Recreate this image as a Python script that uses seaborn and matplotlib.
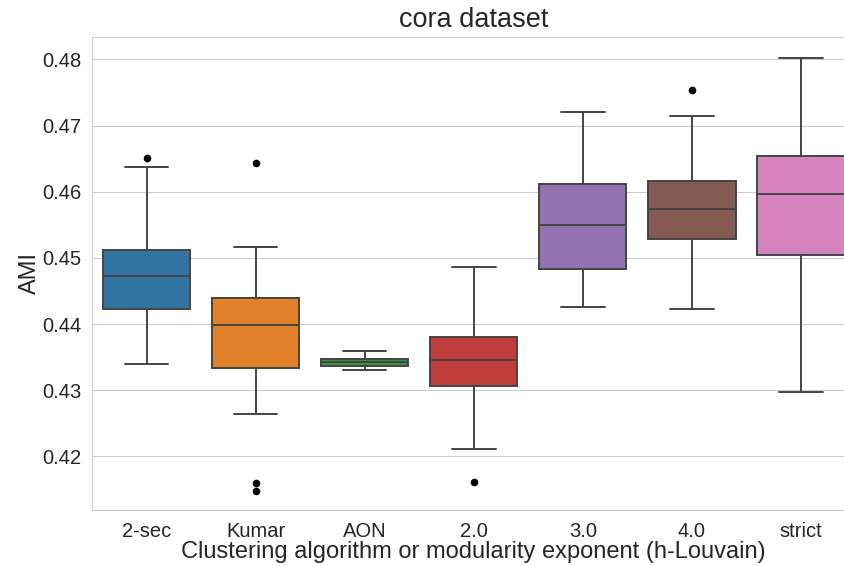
import matplotlib
matplotlib.use("Agg")
import matplotlib.pyplot as plt
import seaborn as sns
import pandas as pd

categories = ["2-sec", "Kumar", "AON", "2.0", "3.0", "4.0", "strict"]

ami_2sec = [0.4339, 0.4400, 0.4423, 0.4450, 0.4473, 0.4490, 0.4512, 0.4638, 0.4651]
ami_kumar = [0.4148, 0.4160, 0.4264, 0.4333, 0.4360, 0.4380, 0.4399, 0.4415,
             0.4430, 0.4440, 0.4490, 0.4516, 0.4644]
ami_aon = [0.4330, 0.4337, 0.4342, 0.4348, 0.4359]
ami_h2 = [0.4161, 0.4212, 0.4306, 0.4330, 0.4346, 0.4365, 0.4381, 0.4420, 0.4487]
ami_h3 = [0.4426, 0.4484, 0.4550, 0.4611, 0.4720]
ami_h4 = [0.4423, 0.4500, 0.4529, 0.4550, 0.4574, 0.4600, 0.4616, 0.4714, 0.4753]
ami_strict = [0.4298, 0.4505, 0.4596, 0.4654, 0.4802]

yticks = [0.42, 0.43, 0.44, 0.45, 0.46, 0.47, 0.48]

series = [ami_2sec, ami_kumar, ami_aon, ami_h2, ami_h3, ami_h4, ami_strict]
rows = []
for cat, vals in zip(categories, series):
    for v in vals:
        rows.append({"method": cat, "AMI": v})
df = pd.DataFrame(rows)

sns.set_style("whitegrid")
plt.rcParams["font.family"] = ["Liberation Sans", "DejaVu Sans"]

fig = plt.figure(figsize=(8.44, 5.66), dpi=100)
ax = fig.add_axes([0.109, 0.0989, 0.9046, 0.8363])

sns.boxplot(data=df, x="method", y="AMI", hue="method", order=categories,
            hue_order=categories, palette="tab10", legend=False, ax=ax,
            linewidth=1.4, linecolor="#444444",
            flierprops=dict(marker="o", markerfacecolor="black",
                            markeredgecolor="black", markersize=4.5))

ax.set_ylim(0.41191, 0.48343)
ax.set_xlim(-0.5, 6.5)
ax.set_yticks(yticks)
ax.set_yticklabels([f"{t:.2f}" for t in yticks])
ax.tick_params(axis="y", labelsize=14.5, colors="#262626", pad=4)
ax.tick_params(axis="x", labelsize=14.5, colors="#262626", pad=5)
ax.set_xlabel("Clustering algorithm or modularity exponent (h-Louvain)",
              fontsize=17, labelpad=0, color="#262626")
ax.set_ylabel("AMI", fontsize=17, color="#262626", labelpad=1)
ax.set_title("cora dataset", fontsize=19.5, color="#262626", pad=7)
ax.xaxis.grid(False)
for s in ax.spines.values():
    s.set_color("#cccccc")

fig.savefig("out.png", dpi=100)
